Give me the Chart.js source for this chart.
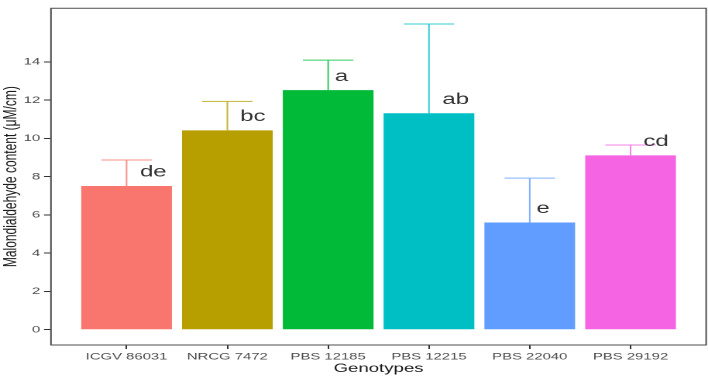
<!DOCTYPE html>
<html>
<head>
<meta charset="utf-8">
<script src="https://cdn.jsdelivr.net/npm/chart.js@4.4.1/dist/chart.umd.min.js"></script>
<style>
  html, body { margin: 0; padding: 0; background: #fff; }
</style>
</head>
<body>
<canvas id="mdaChart" width="457" height="378" style="width:708px;height:378px;display:block"></canvas>
<script>
// ========================================
// Malondialdehyde content by genotype
// ========================================
// The reference figure is stretched sideways (~1.55x), so the chart is drawn
// on a narrower canvas and the inline style widens it to 708px.

const genotypes = ['ICGV 86031', 'NRCG 7472', 'PBS 12185', 'PBS 12215', 'PBS 22040', 'PBS 29192'];
const mdaMeans = [7.51, 10.42, 12.52, 11.31, 5.60, 9.11];
const mdaErrors = [1.36, 1.51, 1.57, 4.67, 2.32, 0.54];
const groupLetters = ['de', 'bc', 'a', 'ab', 'e', 'cd'];
const yTickValues = [0, 2, 4, 6, 8, 10, 12, 14];

const barColors = ['#F8766D', '#B79F00', '#00BA38', '#00BFC4', '#619CFF', '#F564E3'];
const FONT = "'Liberation Sans', Arial, sans-serif";

// Upper error bars with a cap
const errorBarPlugin = {
  id: 'errorBars',
  afterDatasetsDraw(chart) {
    const { ctx, scales: { x, y } } = chart;
    const capHalf = (x.getPixelForValue(0.25) - x.getPixelForValue(0));
    ctx.save();
    ctx.lineWidth = 1;
    ctx.globalAlpha = 0.8;
    mdaMeans.forEach((m, i) => {
      const cx = x.getPixelForValue(i);
      const yTop = y.getPixelForValue(m + mdaErrors[i]);
      const yBar = y.getPixelForValue(m);
      ctx.strokeStyle = barColors[i];
      ctx.beginPath();
      ctx.moveTo(cx, yBar);
      ctx.lineTo(cx, yTop);
      ctx.moveTo(cx - capHalf, yTop);
      ctx.lineTo(cx + capHalf, yTop);
      ctx.stroke();
    });
    ctx.restore();
  }
};

// Significance letters (hjust = -0.5 style, just above each bar)
const letterPlugin = {
  id: 'groupLetters',
  afterDatasetsDraw(chart) {
    const { ctx, scales: { x, y } } = chart;
    ctx.save();
    ctx.font = `15.5px ${FONT}`;
    ctx.fillStyle = '#333333';
    ctx.textAlign = 'left';
    ctx.textBaseline = 'alphabetic';
    groupLetters.forEach((txt, i) => {
      const w = ctx.measureText(txt).width;
      const cx = x.getPixelForValue(i);
      ctx.fillText(txt, cx + 0.5 * w, y.getPixelForValue(mdaMeans[i]) - 9.3);
    });
    ctx.restore();
  }
};

// Panel border round the plot area
const borderPlugin = {
  id: 'panelBorder',
  afterDraw(chart) {
    const { ctx, chartArea: a } = chart;
    ctx.save();
    ctx.strokeStyle = '#4d4d4d';
    ctx.lineWidth = 1;
    ctx.strokeRect(a.left, a.top, a.right - a.left, a.bottom - a.top);
    ctx.restore();
  }
};

new Chart(document.getElementById('mdaChart'), {
  type: 'bar',
  data: {
    datasets: [{
      data: mdaMeans.map((v, i) => ({ x: i, y: v })),
      backgroundColor: barColors,
      borderWidth: 0,
      barPercentage: 0.9,
      categoryPercentage: 1.0
    }]
  },
  options: {
    responsive: false,
    devicePixelRatio: 2,
    animation: false,
    layout: { padding: { top: 1, right: 1.2, left: 0, bottom: 0 } },
    plugins: {
      legend: { display: false },
      tooltip: { enabled: false }
    },
    scales: {
      x: {
        type: 'linear',
        min: -0.75,
        max: 5.75,
        offset: false,
        afterBuildTicks: scale => { scale.ticks = genotypes.map((g, i) => ({ value: i })); },
        afterFit: scale => { scale.height = 33; },
        grid: { offset: false, drawOnChartArea: false, tickLength: 4, color: '#333333' },
        border: { display: false },
        ticks: {
          autoSkip: false,
          maxRotation: 0,
          padding: 2,
          color: '#4d4d4d',
          font: { family: FONT, size: 9.6 },
          callback: v => genotypes[v]
        },
        title: {
          display: true,
          text: 'Genotypes',
          color: '#1a1a1a',
          font: { family: FONT, size: 12 },
          padding: { top: 0, bottom: 2 }
        }
      },
      y: {
        min: -0.8,
        max: 16.8,
        afterBuildTicks: scale => { scale.ticks = yTickValues.map(v => ({ value: v })); },
        afterFit: scale => { scale.width = 32.9; },
        grid: { drawOnChartArea: false, tickLength: 4.5, color: '#333333' },
        border: { display: false },
        ticks: {
          padding: 2.5,
          color: '#4d4d4d',
          font: { family: FONT, size: 9.6 }
        },
        title: {
          display: true,
          text: 'Malondialdehyde content (μM/cm)',
          color: '#1a1a1a',
          font: { family: FONT, size: 12 },
          padding: { top: 0, bottom: 0 }
        }
      }
    }
  },
  plugins: [errorBarPlugin, letterPlugin, borderPlugin]
});
</script>
</body>
</html>
